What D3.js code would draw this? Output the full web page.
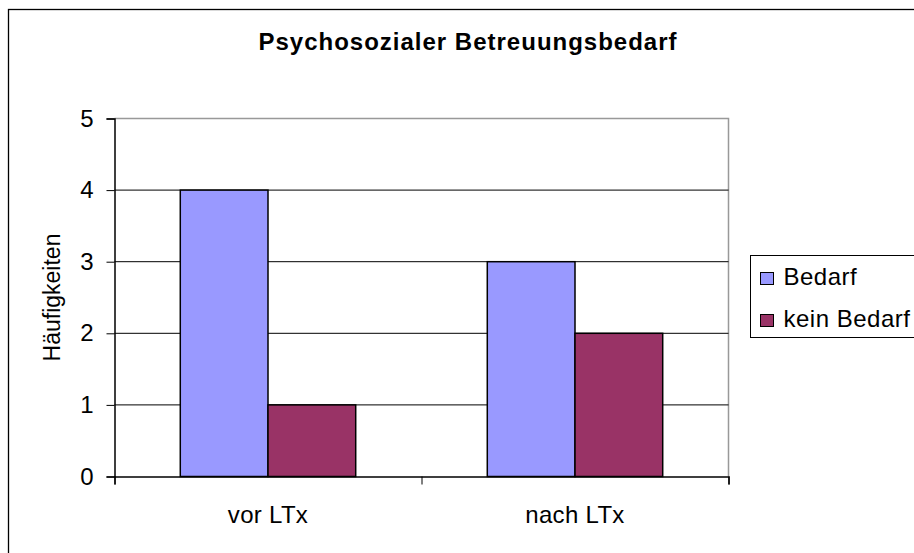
<!DOCTYPE html>
<html>
<head>
<meta charset="utf-8">
<script src="https://cdn.jsdelivr.net/npm/d3@7"></script>
<style>
  body { margin: 0; background: #fff; }
  text { font-family: "Liberation Sans", Arial, sans-serif; fill: #000; }
</style>
</head>
<body>
<div class="chart"></div>
<script>
// Psychosozialer Betreuungsbedarf - grouped bars
let categories = ["vor LTx", "nach LTx"];
let seriesNames = ["Bedarf", "kein Bedarf"];
let bedarf = [4, 3];
let keinBedarf = [1, 2];
let yTicks = [0, 1, 2, 3, 4, 5];

let colors = ["#9999ff", "#993366"];

let svgWidth = 914;
let svgHeight = 553;

let margin = { top: 118.5, right: 186, bottom: 76.5, left: 114.5 };
let width = 728.5 - margin.left;
let height = 476.5 - margin.top;

let svg = d3.select(".chart")
  .append("svg")
  .attr("width", svgWidth)
  .attr("height", svgHeight);

// outer chart border (runs off the right and bottom edge)
svg.append("rect")
  .attr("x", 8.5).attr("y", 9.5)
  .attr("width", 1000).attr("height", 1000)
  .attr("fill", "none").attr("stroke", "#000").attr("stroke-width", 1.3);

let chart = svg.append("g")
  .attr("transform", `translate(${margin.left}, ${margin.top})`);

let xScale = d3.scaleBand().domain(categories).range([0, width]);
// gap width 150% -> bars fill 2/3.5 of each band
let xInner = d3.scaleBand().domain(seriesNames)
  .range([0, xScale.bandwidth()])
  .paddingOuter(0.75).paddingInner(0);
let yScale = d3.scaleLinear().domain([0, 5]).range([height, 0]);

// plot frame: gray top and right
chart.append("path")
  .attr("d", `M0,0H${width}V${height}`)
  .attr("fill", "none").attr("stroke", "#999").attr("stroke-width", 1.5);

// gridlines
chart.append("g")
  .selectAll("line")
  .data(yTicks.filter(d => d > 0 && d < 5))
  .enter()
  .append("line")
  .attr("x1", 0).attr("x2", width)
  .attr("y1", d => yScale(d)).attr("y2", d => yScale(d))
  .attr("stroke", "#000").attr("stroke-width", 1);

// bars
let rows = categories.map((c, i) => ({ cat: c, values: [bedarf[i], keinBedarf[i]] }));
let groups = chart.selectAll(".grp")
  .data(rows)
  .enter()
  .append("g")
  .attr("class", "grp")
  .attr("transform", d => `translate(${xScale(d.cat)},0)`);

groups.selectAll("rect")
  .data(d => d.values.map((v, j) => ({ name: seriesNames[j], value: v, j: j })))
  .enter()
  .append("rect")
  .attr("x", d => xInner(d.name))
  .attr("y", d => yScale(d.value))
  .attr("width", xInner.bandwidth())
  .attr("height", d => height - yScale(d.value))
  .attr("fill", d => colors[d.j])
  .attr("stroke", "#000")
  .attr("stroke-width", 1.5);

// axes
let yAxis = d3.axisLeft(yScale).tickValues(yTicks).tickSize(8).tickPadding(13)
  .tickFormat(d3.format("d"));
let yG = chart.append("g").call(yAxis);
yG.select(".domain").attr("stroke", "#000").attr("stroke-width", 1.5);
yG.selectAll("line").attr("stroke", "#000");
yG.selectAll("text")
  .style("font-family", "Liberation Sans, Arial, sans-serif")
  .style("font-size", "24px");

let xAxis = d3.axisBottom(d3.scaleLinear().domain([0, 2]).range([0, width]))
  .tickValues([0, 1, 2]).tickSize(8).tickFormat("");
let xG = chart.append("g").attr("transform", `translate(0,${height})`).call(xAxis);
xG.select(".domain").attr("stroke", "#000").attr("stroke-width", 1.5);
xG.selectAll("line").attr("stroke", "#000");

chart.selectAll(".xlab")
  .data(categories)
  .enter()
  .append("text")
  .attr("class", "xlab")
  .attr("x", d => xScale(d) + xScale.bandwidth() / 2)
  .attr("y", height + 46)
  .attr("text-anchor", "middle")
  .style("font-size", "24px")
  .style("letter-spacing", "0.3px")
  .text(d => d);

// title
svg.append("text")
  .attr("x", 468)
  .attr("y", 50)
  .attr("text-anchor", "middle")
  .style("font-size", "24px")
  .style("font-weight", "bold")
  .style("letter-spacing", "1px")
  .text("Psychosozialer Betreuungsbedarf");

// y axis title
svg.append("text")
  .attr("transform", `translate(60, ${margin.top + height / 2}) rotate(-90)`)
  .attr("text-anchor", "middle")
  .style("font-size", "23px")
  .text("Häufigkeiten");

// legend
let legend = svg.append("g").attr("transform", "translate(750.5, 255.5)");
legend.append("rect")
  .attr("width", 300).attr("height", 82)
  .attr("fill", "#fff").attr("stroke", "#000").attr("stroke-width", 1);

let items = legend.selectAll(".item")
  .data(seriesNames)
  .enter()
  .append("g")
  .attr("class", "item")
  .attr("transform", (d, i) => `translate(0, ${29 + i * 42})`);

items.append("rect")
  .attr("x", 10).attr("y", -12)
  .attr("width", 13).attr("height", 12)
  .attr("fill", (d, i) => colors[i])
  .attr("stroke", "#000").attr("stroke-width", 1);

items.append("text")
  .attr("x", 33)
  .attr("y", 0)
  .style("font-size", "24px")
  .style("letter-spacing", "0.5px")
  .text(d => d);
</script>
</body>
</html>
